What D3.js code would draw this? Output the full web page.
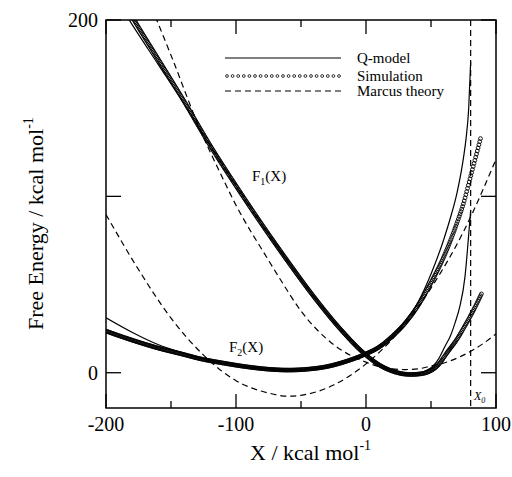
<!DOCTYPE html>
<html>
<head>
<meta charset="utf-8">
<script src="https://cdn.jsdelivr.net/npm/d3@7"></script>
<style>
  body { margin: 0; background: #fff; }
  svg text { font-family: "Liberation Serif", "Times New Roman", serif; fill: #000; }
</style>
</head>
<body>
<div id="chart"></div>
<script>
// --- data: [X, F] in kcal/mol ---
const f1Model = [[-186, 204.5], [-180, 197.5], [-160, 175], [-140, 152.5], [-120, 129], [-100, 106],
  [-80, 84], [-60, 63], [-40, 43], [-20, 25], [0, 10], [10, 4.5], [20, 1], [30, -0.8], [35, -1],
  [40, -0.6], [45, 0.8], [51.5, 3.7], [56, 8], [60.8, 15], [65, 21], [68.5, 28.3], [72, 37],
  [76.2, 54.8], [78.7, 75.6], [80.5, 92]];
const f1Sim = [[-182, 204.5], [-180, 202], [-160, 178], [-140, 154], [-120, 129], [-100, 106],
  [-80, 84], [-60, 63], [-40, 43], [-20, 25], [0, 10], [10, 4.5], [20, 1], [30, -0.8], [35, -1],
  [40, -0.8], [48, 0.5], [55, 4], [63, 12], [70, 19], [76, 26.5], [82, 34.5], [89, 45]];
const f2Model = [[-200, 31.2], [-180, 23], [-160, 16], [-140, 11], [-128, 8.2], [-110, 5.5],
  [-90, 3.2], [-75, 2], [-60, 1.5], [-45, 2], [-30, 3.5], [-15, 6.5], [-1, 10.4], [10, 14.5],
  [20, 20.5], [30, 29], [35, 34], [40, 40], [50, 56], [60, 76], [65, 88], [70, 102], [75, 122],
  [77, 133], [79, 150], [80.5, 176]];
const f2Sim = [[-200, 23.6], [-180, 18.5], [-160, 14], [-140, 10.3], [-128, 8], [-110, 5.5],
  [-90, 3.2], [-75, 2], [-60, 1.5], [-45, 2], [-30, 3.5], [-15, 6.5], [-1, 10.4], [10, 14.5],
  [20, 20.5], [30, 28], [40, 38], [50, 51], [60, 66], [65, 75], [70, 85], [75, 96], [80, 110],
  [85, 124], [88.5, 134]];
const f1Marcus = [[-165, 207], [-161, 200], [-150, 180], [-127.7, 138], [-112, 113], [-100, 95],
  [-76, 65], [-66, 53], [-50, 35], [-25, 16], [0, 6], [10, 3.5], [20, 2.2], [30, 1.8], [40, 2.2],
  [50, 3.8], [60, 5.5], [75, 10], [90, 16.5], [100, 22]];
const f2Marcus = [[-200, 89.7], [-175, 58.5], [-150, 31], [-125, 10], [-100, -4.5], [-75, -11.5],
  [-60, -13.3], [-50, -12.8], [-25, -7], [0, 5], [25, 23], [50, 48], [75, 80], [100, 121]];
const x0Value = 80.5;

const xMajor = [-200, -100, 0, 100];
const xMinor = [-150, -50, 50];
const yMajor = [0, 100, 200];
const xLabels = [-200, -100, 0, 100];
const yLabels = [0, 200];
const legendItems = ["Q-model", "Simulation", "Marcus theory"];

// --- setup ---
const width = 512, height = 477;
const svg = d3.select("#chart").append("svg")
  .attr("width", width)
  .attr("height", height);

const x = d3.scaleLinear().domain([-200, 100]).range([106, 496]);
const y = d3.scaleLinear().domain([-20, 200]).range([408, 20]);

svg.append("defs").append("clipPath").attr("id", "plot")
  .append("rect")
  .attr("x", x(-200)).attr("y", y(200))
  .attr("width", x(100) - x(-200)).attr("height", y(-20) - y(200));

const line = d3.line()
  .x(d => x(d[0]))
  .y(d => y(d[1]))
  .curve(d3.curveMonotoneX);

const plot = svg.append("g").attr("clip-path", "url(#plot)");

// Marcus parabolas
[f1Marcus, f2Marcus].forEach(data => {
  plot.append("path")
    .datum(data)
    .attr("d", line)
    .attr("fill", "none")
    .attr("stroke", "#000")
    .attr("stroke-width", 1.2)
    .attr("stroke-dasharray", "6,4");
});

// X0 marker
plot.append("line")
  .attr("x1", x(x0Value)).attr("x2", x(x0Value))
  .attr("y1", y(200)).attr("y2", y(-20))
  .attr("stroke", "#000")
  .attr("stroke-width", 1.2)
  .attr("stroke-dasharray", "6,4");

// Q-model curves
[f1Model, f2Model].forEach(data => {
  plot.append("path")
    .datum(data)
    .attr("d", line)
    .attr("fill", "none")
    .attr("stroke", "#000")
    .attr("stroke-width", 1.2);
});

// Simulation: open circles as the line style
function drawSim(data) {
  const p = plot.append("path")
    .datum(data)
    .attr("d", line)
    .attr("fill", "none")
    .attr("stroke", "none");
  const node = p.node();
  const total = node.getTotalLength();
  const pts = [];
  let last = null;
  for (let s = 0; s <= total; s += 0.2) {
    const pt = node.getPointAtLength(s);
    if (!last || Math.abs(pt.x - last.x) >= 0.8 || Math.hypot(pt.x - last.x, pt.y - last.y) >= 3.2) {
      pts.push(pt);
      last = pt;
    }
  }
  plot.append("g").selectAll("circle")
    .data(pts)
    .join("circle")
    .attr("cx", d => d.x)
    .attr("cy", d => d.y)
    .attr("r", 1.9)
    .attr("fill", "none")
    .attr("stroke", "#000")
    .attr("stroke-width", 0.9);
}
drawSim(f1Sim);
drawSim(f2Sim);

// --- frame and ticks ---
svg.append("rect")
  .attr("x", x(-200)).attr("y", y(200))
  .attr("width", x(100) - x(-200)).attr("height", y(-20) - y(200))
  .attr("fill", "none")
  .attr("stroke", "#000")
  .attr("stroke-width", 1.5);

const ticks = svg.append("g").attr("stroke", "#000").attr("stroke-width", 1.3);
xMajor.concat(xMinor).forEach(v => {
  const len = xMajor.includes(v) ? 14 : 7;
  ticks.append("line").attr("x1", x(v)).attr("x2", x(v)).attr("y1", y(-20)).attr("y2", y(-20) - len);
  ticks.append("line").attr("x1", x(v)).attr("x2", x(v)).attr("y1", y(200)).attr("y2", y(200) + len);
});
yMajor.forEach(v => {
  ticks.append("line").attr("x1", x(-200)).attr("x2", x(-200) + 15).attr("y1", y(v)).attr("y2", y(v));
  ticks.append("line").attr("x1", x(100)).attr("x2", x(100) - 15).attr("y1", y(v)).attr("y2", y(v));
});

svg.append("g").selectAll("text")
  .data(xLabels)
  .join("text")
  .attr("x", d => x(d))
  .attr("y", 431)
  .attr("text-anchor", "middle")
  .attr("font-size", "20px")
  .text(d => d);

svg.append("g").selectAll("text")
  .data(yLabels)
  .join("text")
  .attr("x", 98)
  .attr("y", d => y(d) + 7)
  .attr("text-anchor", "end")
  .attr("font-size", "20px")
  .text(d => d);

// axis titles
const xt = svg.append("text")
  .attr("x", 250)
  .attr("y", 460)
  .attr("font-size", "22px");
xt.append("tspan").text("X / kcal mol");
xt.append("tspan").attr("dy", -10).attr("font-size", "14px").text("-1");

const yt = svg.append("text")
  .attr("transform", "translate(43,330) rotate(-90)")
  .attr("font-size", "22px");
yt.append("tspan").text("Free Energy / kcal mol");
yt.append("tspan").attr("dy", -10).attr("font-size", "14px").text("-1");

// curve labels
function subLabel(px, py, sub) {
  const t = svg.append("text").attr("x", px).attr("y", py).attr("font-size", "15px");
  t.append("tspan").text("F");
  t.append("tspan").attr("dy", 4).attr("font-size", "10px").text(sub);
  t.append("tspan").attr("dy", -4).text("(X)");
}
subLabel(252, 181, "1");
subLabel(229, 352, "2");

const x0t = svg.append("text")
  .attr("x", 474)
  .attr("y", 400)
  .attr("font-size", "12px")
  .attr("font-style", "italic");
x0t.append("tspan").text("X");
x0t.append("tspan").attr("dy", 3).attr("font-size", "8px").text("0");

// --- legend ---
const legend = svg.append("g");
const legendY = [58, 76, 91];
legend.append("line")
  .attr("x1", 225).attr("x2", 341).attr("y1", legendY[0]).attr("y2", legendY[0])
  .attr("stroke", "#000").attr("stroke-width", 1.2);
legend.append("g").selectAll("circle")
  .data(d3.range(21))
  .join("circle")
  .attr("cx", i => 227 + i * 5.6)
  .attr("cy", legendY[1])
  .attr("r", 1.4)
  .attr("fill", "none")
  .attr("stroke", "#000")
  .attr("stroke-width", 0.8);
legend.append("line")
  .attr("x1", 225).attr("x2", 341).attr("y1", legendY[2]).attr("y2", legendY[2])
  .attr("stroke", "#000").attr("stroke-width", 1.2)
  .attr("stroke-dasharray", "6,4");
legend.selectAll("text")
  .data(legendItems)
  .join("text")
  .attr("x", 357)
  .attr("y", (d, i) => legendY[i] + 5)
  .attr("font-size", "15px")
  .text(d => d);
</script>
</body>
</html>
